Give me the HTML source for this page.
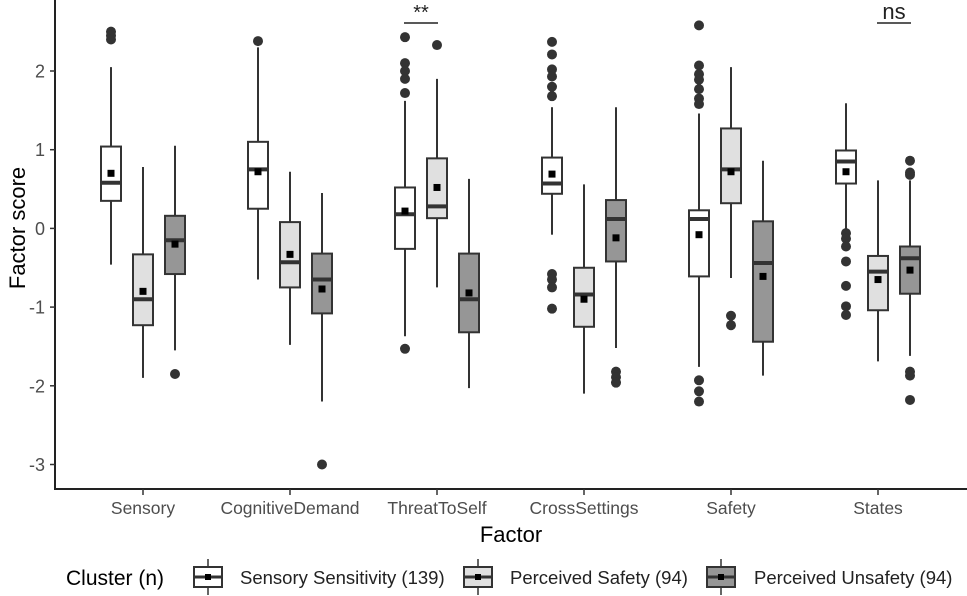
<!DOCTYPE html>
<html><head><meta charset="utf-8"><style>
html,body{margin:0;padding:0;background:#fff;}
svg{display:block;font-family:"Liberation Sans",Arial,sans-serif;}
</style></head><body>
<svg id="chart" width="967" height="596" viewBox="0 0 967 596" xmlns="http://www.w3.org/2000/svg"></svg>
<script>
const categories = ["Sensory","CognitiveDemand","ThreatToSelf","CrossSettings","Safety","States"];
const clusters = ["Sensory Sensitivity (139)","Perceived Safety (94)","Perceived Unsafety (94)"];
const yTicks = [-3,-2,-1,0,1,2];
// each stat: [lowWhisker, Q1, median, Q3, highWhisker, mean]
const whiteStats = [[-0.46,0.35,0.58,1.04,2.05,0.70],[-0.65,0.25,0.75,1.10,2.30,0.72],[-1.37,-0.26,0.18,0.52,1.62,0.22],[-0.08,0.44,0.57,0.90,1.54,0.69],[-1.76,-0.61,0.12,0.23,1.46,-0.08],[-0.02,0.57,0.85,0.99,1.59,0.72]];
const lightStats = [[-1.90,-1.23,-0.90,-0.33,0.78,-0.80],[-1.48,-0.75,-0.43,0.08,0.72,-0.33],[-0.75,0.13,0.28,0.89,1.90,0.52],[-2.10,-1.25,-0.84,-0.50,0.56,-0.90],[-0.63,0.32,0.75,1.27,2.05,0.72],[-1.69,-1.04,-0.55,-0.35,0.61,-0.65]];
const darkStats = [[-1.55,-0.58,-0.15,0.16,1.05,-0.20],[-2.20,-1.08,-0.65,-0.32,0.45,-0.77],[-2.03,-1.32,-0.90,-0.32,0.63,-0.82],[-1.52,-0.42,0.12,0.36,1.54,-0.12],[-1.87,-1.44,-0.44,0.09,0.86,-0.61],[-1.62,-0.83,-0.38,-0.23,0.61,-0.53]];
const whiteOutliers = [[2.50,2.45,2.40],[2.38],[2.43,2.10,2.00,1.90,1.72,-1.53],[2.37,2.21,2.02,1.93,1.80,1.68,-0.58,-0.65,-0.75,-1.02],[2.58,2.07,1.96,1.89,1.77,1.65,1.58,-1.93,-2.07,-2.20],[-0.06,-0.13,-0.23,-0.42,-0.73,-0.99,-1.10]];
const lightOutliers = [[],[],[2.33],[],[-1.11,-1.23],[]];
const darkOutliers = [[-1.85],[-3.0],[],[-1.82,-1.89,-1.96],[],[0.86,0.71,0.68,-1.82,-1.87,-2.18]];
const fills = ["#ffffff","#e0e0e0","#969696"];

const svg = document.getElementById('chart');
const NS = "http://www.w3.org/2000/svg";
function el(tag, attrs, parent){const e=document.createElementNS(NS,tag);for(const k in attrs)e.setAttribute(k,attrs[k]);(parent||svg).appendChild(e);return e;}
const y = v => 228.4 - v*78.7;
const x = i => 143 + i*147;
const off = [-32,0,32];
const bw = 20;

const yAxis = el('line',{x1:55,y1:0,x2:55,y2:489,stroke:'#222','stroke-width':2});


const xAxis = el('line',{x1:54,y1:489,x2:967,y2:489,stroke:'#222','stroke-width':2});



yTicks.forEach(t=>{
  const tk = el('line',{x1:50,y1:y(t),x2:55,y2:y(t),stroke:'#333','stroke-width':1.5});
  
  
  const tl = el('text',{x:45,y:y(t)+6.5,'text-anchor':'end','font-size':18,fill:'#4d4d4d'});
  tl.textContent = t;
  
  
});
categories.forEach((c,i)=>{
  const tk = el('line',{x1:x(i),y1:489,x2:x(i),y2:495,stroke:'#333','stroke-width':1.5});
  
  
  const tl = el('text',{x:x(i),y:514,'text-anchor':'middle','font-size':17.5,fill:'#4d4d4d'});
  tl.textContent = c;
  
  
});

function drawBox(cx, s, fill, outs){
  const g = el('g',{});
  
  
  el('line',{x1:cx,y1:y(s[4]),x2:cx,y2:y(s[0]),stroke:'#333','stroke-width':2},g);
  el('rect',{x:cx-bw/2,y:y(s[3]),width:bw,height:y(s[1])-y(s[3]),fill:fill,stroke:'#333','stroke-width':2},g);
  el('line',{x1:cx-bw/2,y1:y(s[2]),x2:cx+bw/2,y2:y(s[2]),stroke:'#333','stroke-width':4},g);
  el('rect',{x:cx-3.5,y:y(s[5])-3.5,width:7,height:7,fill:'#000'},g);
  outs.forEach(o=>{
    const c = el('circle',{cx:cx,cy:y(o),r:5,fill:'#333'},g);
    
    
  });
}
categories.forEach((c,i)=>{
  drawBox(x(i)+off[0], whiteStats[i], fills[0], whiteOutliers[i]);
  drawBox(x(i)+off[1], lightStats[i], fills[1], lightOutliers[i]);
  drawBox(x(i)+off[2], darkStats[i], fills[2], darkOutliers[i]);
});
</script>
<svg style="position:absolute;left:0;top:0" width="967" height="596" xmlns="http://www.w3.org/2000/svg" font-family="Liberation Sans, Arial, sans-serif">
  <g>
    <line x1="404" y1="23" x2="438" y2="23" stroke="#222" stroke-width="1.5"/>
    <text x="421" y="19" text-anchor="middle" font-size="20" fill="#222">**</text>
  </g>
  <g>
    <line x1="877" y1="23" x2="911" y2="23" stroke="#222" stroke-width="1.5"/>
    <text x="894" y="19" text-anchor="middle" font-size="22" fill="#222">ns</text>
  </g>
  <text x="0" y="0" transform="translate(25,228) rotate(-90)" text-anchor="middle" font-size="22" fill="#000">Factor score</text>
  <text x="511" y="542" text-anchor="middle" font-size="22" fill="#000">Factor</text>
  <g>
    <text x="66" y="585" font-size="21" fill="#000">Cluster (n)</text>
    <g>
      <line x1="208" y1="559" x2="208" y2="595" stroke="#333" stroke-width="1.5"/>
      <rect x="194" y="567" width="28" height="20" fill="#fff" stroke="#333" stroke-width="2"/>
      <line x1="194" y1="577" x2="222" y2="577" stroke="#333" stroke-width="3"/>
      <rect x="205" y="574" width="6" height="6" fill="#000"/>
      <text x="240" y="584" font-size="18.5" fill="#222">Sensory Sensitivity (139)</text>
    </g>
    <g>
      <line x1="478" y1="559" x2="478" y2="595" stroke="#333" stroke-width="1.5"/>
      <rect x="464" y="567" width="28" height="20" fill="#e0e0e0" stroke="#333" stroke-width="2"/>
      <line x1="464" y1="577" x2="492" y2="577" stroke="#333" stroke-width="3"/>
      <rect x="475" y="574" width="6" height="6" fill="#000"/>
      <text x="510" y="584" font-size="18.5" fill="#222">Perceived Safety (94)</text>
    </g>
    <g>
      <line x1="721" y1="559" x2="721" y2="595" stroke="#333" stroke-width="1.5"/>
      <rect x="707" y="567" width="28" height="20" fill="#969696" stroke="#333" stroke-width="2"/>
      <line x1="707" y1="577" x2="735" y2="577" stroke="#333" stroke-width="3"/>
      <rect x="718" y="574" width="6" height="6" fill="#000"/>
      <text x="754" y="584" font-size="18.5" fill="#222">Perceived Unsafety (94)</text>
    </g>
  </g>
</svg>
</body></html>
